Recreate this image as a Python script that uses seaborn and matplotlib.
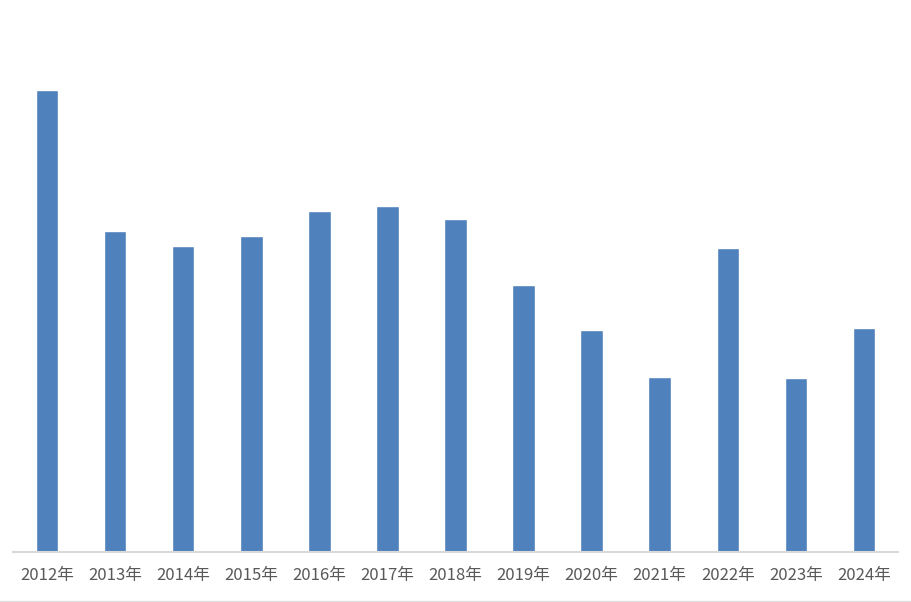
import matplotlib
matplotlib.use("Agg")
import matplotlib.pyplot as plt
import seaborn as sns
import pandas as pd
from matplotlib.lines import Line2D

years = ["2012年", "2013年", "2014年", "2015年", "2016年", "2017年", "2018年",
         "2019年", "2020年", "2021年", "2022年", "2023年", "2024年"]
values = [462, 321, 306, 316, 341, 346, 333, 267, 222, 175, 304, 174, 224]

sns.set_theme(style="white")
plt.rcParams['font.family'] = ['Noto Sans CJK SC', 'DejaVu Sans']

df = pd.DataFrame({"year": years, "value": values})

fig = plt.figure(figsize=(9.12, 6.02), dpi=100)
ax = fig.add_axes([13/912, 50/602, 885/912, 500/602])
sns.barplot(data=df, x="year", y="value", color="#4F81BD", saturation=1,
            width=0.33, ax=ax)
ax.set_xlim(-0.5, len(years) - 0.5)
ax.set_ylim(0, 500)
ax.set_xlabel("")
ax.set_ylabel("")
ax.set_yticks([])
for s in ["top", "right", "left"]:
    ax.spines[s].set_visible(False)
ax.spines["bottom"].set_color("#D9D9D9")
ax.spines["bottom"].set_linewidth(1.5)
ax.tick_params(axis="x", length=0, pad=11, labelsize=12, labelcolor="#595959")

fig.add_artist(Line2D([0, 1], [1.5/602, 1.5/602], transform=fig.transFigure,
                      color="#E0E0E0", linewidth=1))

fig.savefig("out.png", dpi=100, facecolor="white")
